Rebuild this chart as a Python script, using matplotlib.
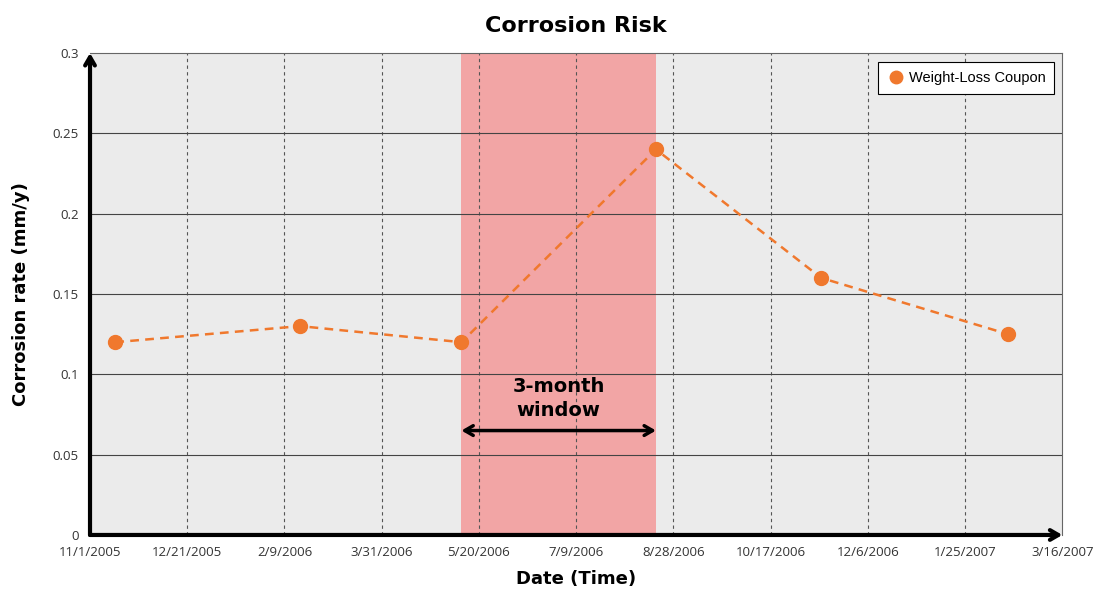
import datetime as dt
import matplotlib
matplotlib.use("Agg")
import matplotlib.pyplot as plt
from matplotlib.lines import Line2D

# data
dates = ["2005-11-14", "2006-02-17", "2006-05-11", "2006-08-19", "2006-11-12", "2007-02-16"]
rates = [0.12, 0.13, 0.12, 0.24, 0.16, 0.125]
window = ["2006-05-11", "2006-08-19"]
tick_start = "2005-11-01"
tick_step_days = 50
n_ticks = 11

x = [dt.datetime.strptime(d, "%Y-%m-%d") for d in dates]
w0, w1 = [dt.datetime.strptime(d, "%Y-%m-%d") for d in window]
t0 = dt.datetime.strptime(tick_start, "%Y-%m-%d")
ticks = [t0 + dt.timedelta(days=tick_step_days * k) for k in range(n_ticks)]
tick_labels = [f"{t.month}/{t.day}/{t.year}" for t in ticks]

orange = "#f0782d"

fig = plt.figure(figsize=(10.95, 5.91), dpi=100)
ax = fig.add_axes([0.0822, 0.0948, 0.888, 0.8155])
ax.set_facecolor("#ebebeb")

ax.axvspan(w0, w1, color="#f2a5a5", zorder=1, lw=0)

ax.set_xlim(ticks[0], ticks[-1])
ax.set_ylim(0, 0.3)
ax.set_xticks(ticks)
ax.set_xticklabels(tick_labels)
ax.set_yticks([0, 0.05, 0.1, 0.15, 0.2, 0.25, 0.3])
ax.set_yticklabels(["0", "0.05", "0.1", "0.15", "0.2", "0.25", "0.3"])
ax.tick_params(length=0, labelsize=9.5, colors="#333333", pad=8)
for lab in ax.get_xticklabels() + ax.get_yticklabels():
    lab.set_family("Open Sans")

for t in ticks[1:-1]:
    ax.axvline(t, color="#555555", lw=0.8, ls=(0, (3, 3)), zorder=2)
for v in [0.05, 0.1, 0.15, 0.2, 0.25]:
    ax.axhline(v, color="#444444", lw=0.8, zorder=2)

ax.plot(x, rates, ls="--", color=orange, lw=1.8, marker="o", ms=10,
        zorder=4, dashes=(3.5, 2.5))

for s in ["top", "right"]:
    ax.spines[s].set_color("#666666")
    ax.spines[s].set_linewidth(0.8)
for s in ["left", "bottom"]:
    ax.spines[s].set_visible(False)

# axis arrows
ax.annotate("", xy=(0, 1.0), xytext=(0, 0), xycoords="axes fraction",
            arrowprops=dict(arrowstyle="->,head_length=0.6,head_width=0.35",
                            lw=3, color="black", shrinkA=0, shrinkB=0),
            annotation_clip=False, zorder=6)
ax.annotate("", xy=(1.0, 0), xytext=(0, 0), xycoords="axes fraction",
            arrowprops=dict(arrowstyle="->,head_length=0.6,head_width=0.35",
                            lw=3, color="black", shrinkA=0, shrinkB=0),
            annotation_clip=False, zorder=6)

# window annotation
ax.annotate("", xy=(w0, 0.065), xytext=(w1, 0.065),
            arrowprops=dict(arrowstyle="<->,head_length=0.6,head_width=0.35",
                            lw=2.5, color="black", shrinkA=0, shrinkB=0),
            zorder=5)
mid = w0 + (w1 - w0) / 2
ax.text(mid, 0.085, "3-month\nwindow", ha="center", va="center",
        fontsize=14, fontweight="bold", linespacing=1.3, zorder=5)

leg_handle = Line2D([], [], ls="none", marker="o", ms=9, color=orange)
leg = ax.legend([leg_handle], ["Weight-Loss Coupon"], loc="upper right",
                bbox_to_anchor=(0.9918, 0.9813), borderaxespad=0,
                fancybox=False, framealpha=1,
                edgecolor="black", handletextpad=0.2, handlelength=1.3,
                borderpad=0.6, prop={"family": "Liberation Sans", "size": 10.5})
leg.get_frame().set_linewidth(0.8)

ax.set_title("Corrosion Risk", fontsize=16, fontweight="bold", pad=15)
ax.set_xlabel("Date (Time)", fontsize=13, fontweight="bold", labelpad=8)
ax.set_ylabel("Corrosion rate (mm/y)", fontsize=13, fontweight="bold", labelpad=16)

fig.savefig("out.png", dpi=100)
